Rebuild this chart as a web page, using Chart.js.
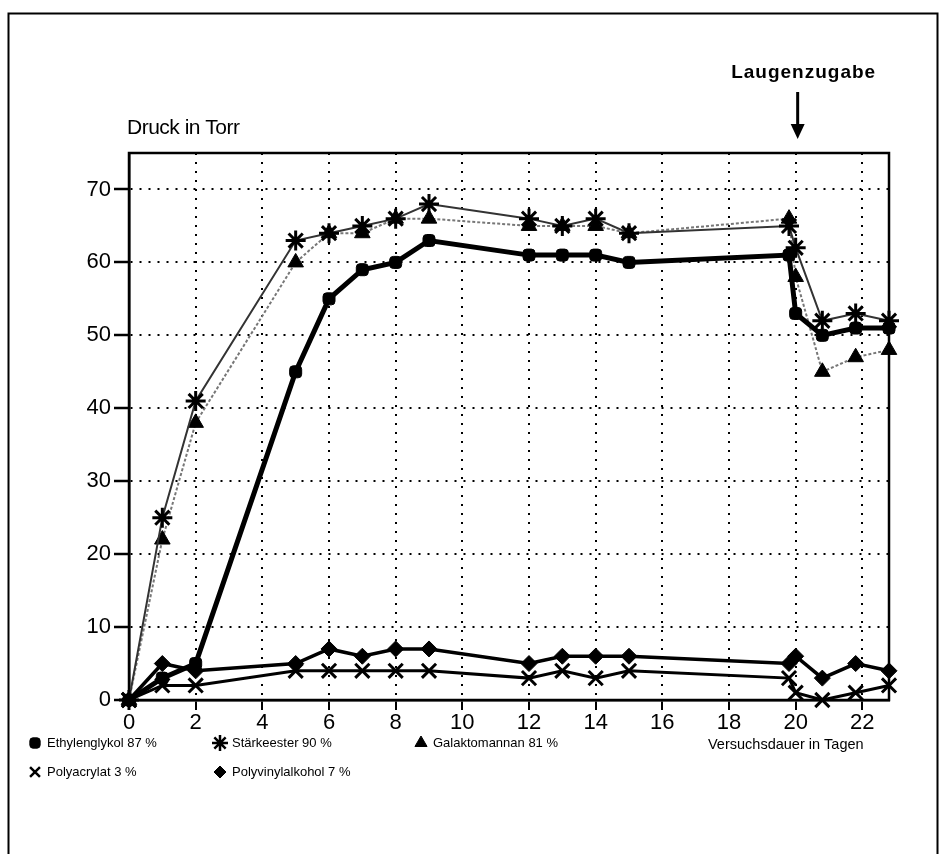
<!DOCTYPE html>
<html>
<head>
<meta charset="utf-8">
<script src="https://cdn.jsdelivr.net/npm/chart.js@4/dist/chart.umd.min.js"></script>
<style>
  html, body { margin: 0; padding: 0; background: #fff; }
  #wrap { width: 945px; height: 854px; }
</style>
</head>
<body>
<div id="wrap"><canvas id="druckChart" width="945" height="854"></canvas></div>
<script>
// Versuchsdauer in Tagen
const days = [0, 1, 2, 5, 6, 7, 8, 9, 12, 13, 14, 15, 19.8, 20, 20.8, 21.8, 22.8];
// Druck in Torr
const ethylenglykol    = [0, 3, 5, 45, 55, 59, 60, 63, 61, 61, 61, 60, 61, 53, 50, 51, 51];
const staerkeester     = [0, 25, 41, 63, 64, 65, 66, 68, 66, 65, 66, 64, 65, 62, 52, 53, 52];
const galaktomannan    = [0, 22, 38, 60, 64, 64, 66, 66, 65, 65, 65, 64, 66, 58, 45, 47, 48];
const polyacrylat      = [0, 2, 2, 4, 4, 4, 4, 4, 3, 4, 3, 4, 3, 1, 0, 1, 2];
const polyvinylalkohol = [0, 5, 4, 5, 7, 6, 7, 7, 5, 6, 6, 6, 5, 6, 3, 5, 4];

const seriesLabels = ['Ethylenglykol 87 %', 'Stärkeester 90 %', 'Galaktomannan 81 %', 'Polyacrylat 3 %', 'Polyvinylalkohol 7 %'];
const xTicks = [0, 2, 4, 6, 8, 10, 12, 14, 16, 18, 20, 22];
const yTicks = [0, 10, 20, 30, 40, 50, 60, 70];

function points(values) {
    return values.map((v, i) => ({ x: days[i], y: v }))
}

const FONT = '"Liberation Sans", Arial, sans-serif';

const datasets = [
    { label: seriesLabels[0], data: points(ethylenglykol), borderColor: '#000', backgroundColor: '#000',
      borderWidth: 5, pointStyle: 'rectRounded', pointRadius: 7, pointBorderWidth: 1 },
    { label: seriesLabels[1], data: points(staerkeester), borderColor: '#333', backgroundColor: '#000',
      borderWidth: 2, pointStyle: 'star', pointRadius: 10, pointBorderColor: '#000', pointBorderWidth: 3 },
    { label: seriesLabels[2], data: points(galaktomannan), borderColor: '#777', backgroundColor: '#000',
      borderWidth: 2, borderDash: [3, 2], pointStyle: 'triangle', pointRadius: 9, pointBorderColor: '#000', pointBorderWidth: 1 },
    { label: seriesLabels[3], data: points(polyacrylat), borderColor: '#000', backgroundColor: '#000',
      borderWidth: 3, pointStyle: 'crossRot', pointRadius: 10, pointBorderWidth: 3 },
    { label: seriesLabels[4], data: points(polyvinylalkohol), borderColor: '#000', backgroundColor: '#000',
      borderWidth: 3.5, pointStyle: 'rectRot', pointRadius: 8, pointBorderWidth: 1 }
];
datasets.forEach(d => { d.fill = false; d.tension = 0; d.clip = false; });

const framePlugin = {
    id: 'frame',
    beforeDatasetsDraw(chart) {
        const { ctx, chartArea: a } = chart;
        ctx.save();
        ctx.strokeStyle = '#000';
        ctx.lineWidth = 2.5;
        ctx.strokeRect(a.left, a.top, a.right - a.left, a.bottom - a.top);
        ctx.restore();
    }
};

function legendMarker(ctx, style, x, y) {
    const opts = { pointStyle: style.pointStyle, radius: style.r, rotation: 0, borderWidth: style.bw };
    ctx.fillStyle = '#000';
    ctx.strokeStyle = '#000';
    ctx.lineWidth = style.bw;
    Chart.helpers.drawPoint(ctx, opts, x, y);
}

const textPlugin = {
    id: 'texts',
    afterDraw(chart) {
        const ctx = chart.ctx;
        const xs = chart.scales.x;
        ctx.save();
        // outer frame
        ctx.strokeStyle = '#000';
        ctx.lineWidth = 2;
        ctx.beginPath();
        ctx.moveTo(8.5, 856);
        ctx.lineTo(8.5, 13.5);
        ctx.lineTo(937.5, 13.5);
        ctx.lineTo(937.5, 856);
        ctx.stroke();

        ctx.fillStyle = '#000';
        ctx.textBaseline = 'middle';
        ctx.font = '21px ' + FONT;
        ctx.textAlign = 'left';
        ctx.letterSpacing = '-0.5px';
        ctx.fillText('Druck in Torr', 127, 128);

        // Laugenzugabe with arrow at day 20
        const ax = xs.getPixelForValue(20) + 2;
        ctx.font = 'bold 19px ' + FONT;
        ctx.letterSpacing = '1px';
        ctx.textAlign = 'center';
        ctx.fillText('Laugenzugabe', ax + 6, 73);
        ctx.letterSpacing = '0px';
        ctx.lineWidth = 3;
        ctx.beginPath();
        ctx.moveTo(ax, 92);
        ctx.lineTo(ax, 130);
        ctx.stroke();
        ctx.beginPath();
        ctx.moveTo(ax - 7, 124);
        ctx.lineTo(ax + 7, 124);
        ctx.lineTo(ax, 139);
        ctx.closePath();
        ctx.fill();

        ctx.font = '14.5px ' + FONT;
        ctx.textAlign = 'left';
        ctx.fillText('Versuchsdauer in Tagen', 708, 745);

        // legend
        const styles = chart.data.datasets.map((d, i) => ({
            pointStyle: d.pointStyle,
            r: [6, 8, 7, 7, 6][i],
            bw: [1, 2.5, 1, 2.5, 1][i]
        }));
        const slots = [[35, 743], [220, 743], [421, 743], [35, 772], [220, 772]];
        chart.data.datasets.forEach((d, i) => {
            const [lx, ly] = slots[i];
            legendMarker(ctx, styles[i], lx, ly);
            ctx.fillStyle = '#000';
            ctx.font = '13px ' + FONT;
            ctx.fillText(d.label, lx + 12, ly);
        });
        ctx.restore();
    }
};

new Chart(document.getElementById('druckChart'), {
    type: 'line',
    data: { datasets: datasets },
    options: {
        responsive: false,
        animation: false,
        layout: { padding: { left: 0, right: 56, top: 153, bottom: 0 } },
        plugins: { legend: { display: false }, tooltip: { enabled: false } },
        scales: {
            x: {
                type: 'linear',
                min: 0,
                max: 22.8,
                afterFit: s => { s.height = 154; },
                afterBuildTicks: s => { s.ticks = xTicks.map(v => ({ value: v })); },
                ticks: { color: '#000', font: { family: FONT, size: 22 }, padding: 0, maxRotation: 0 },
                grid: { color: '#000', lineWidth: 2, tickLength: 10, tickWidth: 2, tickColor: '#000', tickBorderDash: [] },
                border: { display: true, color: '#000', width: 2.5, dash: [2, 7] }
            },
            y: {
                min: 0,
                max: 75,
                afterFit: s => { s.width = 129; },
                afterBuildTicks: s => { s.ticks = yTicks.map(v => ({ value: v })); },
                ticks: { color: '#000', font: { family: FONT, size: 22 }, padding: 3 },
                grid: { color: '#000', lineWidth: 2, tickLength: 15, tickWidth: 2.5, tickColor: '#000', tickBorderDash: [] },
                border: { display: true, color: '#000', width: 2.5, dash: [2, 7] }
            }
        }
    },
    plugins: [framePlugin, textPlugin]
});
</script>
</body>
</html>
